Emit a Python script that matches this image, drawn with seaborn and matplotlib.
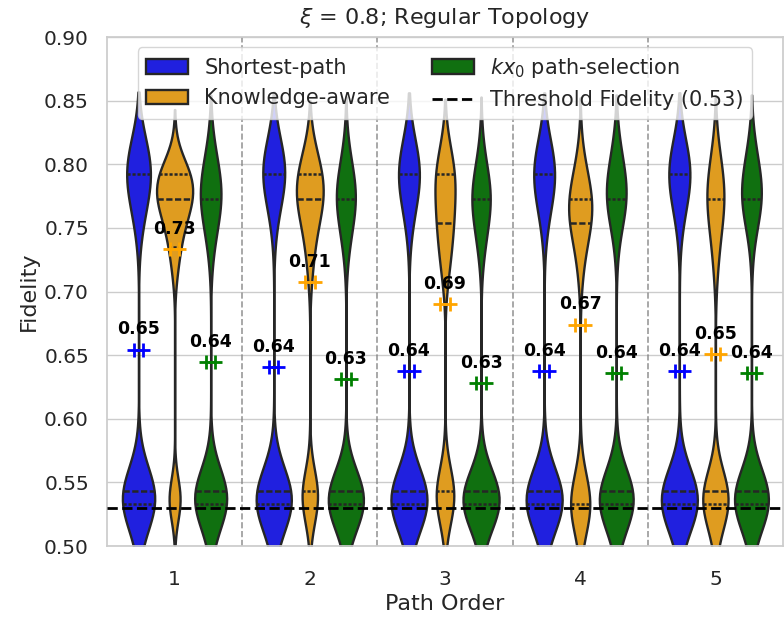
import numpy as np
import pandas as pd
import matplotlib
matplotlib.use("Agg")
import matplotlib.pyplot as plt
import seaborn as sns
from matplotlib.patches import Patch
from matplotlib.lines import Line2D
from matplotlib.ticker import FormatStrFormatter

# ---------------- data ----------------
PATH_ORDERS = [1, 2, 3, 4, 5]
METHODS = ["Shortest-path", "Knowledge-aware", "$kx_0$ path-selection"]

# discrete fidelity levels observed in the samples
LEVELS = [0.515, 0.524, 0.533, 0.543, 0.553, 0.563,
          0.716, 0.735, 0.754, 0.773, 0.792, 0.811]

# number of samples at each fidelity level, one list per path order
COUNTS_SHORTEST = [
    [15, 85, 155, 250, 20, 10, 0, 0, 50, 90, 200, 125],
    [30, 100, 190, 210, 50, 10, 0, 0, 30, 70, 200, 110],
    [30, 110, 190, 210, 50, 10, 0, 0, 40, 80, 180, 100],
    [30, 110, 190, 210, 50, 10, 0, 0, 40, 80, 180, 100],
    [30, 110, 190, 210, 50, 10, 0, 0, 35, 80, 185, 100],
]
COUNTS_KNOWLEDGE = [
    [0, 0, 100, 60, 0, 0, 40, 80, 140, 280, 270, 30],
    [0, 30, 80, 150, 20, 0, 40, 60, 110, 230, 200, 80],
    [0, 45, 95, 150, 35, 15, 65, 90, 130, 120, 180, 75],
    [40, 90, 130, 100, 20, 10, 45, 55, 190, 200, 95, 25],
    [30, 70, 155, 250, 5, 0, 30, 50, 90, 160, 110, 50],
]
COUNTS_KX0 = [
    [20, 90, 150, 250, 30, 10, 0, 40, 70, 180, 110, 50],
    [30, 110, 190, 210, 50, 10, 0, 40, 70, 170, 90, 30],
    [30, 110, 195, 215, 50, 10, 0, 50, 70, 165, 80, 25],
    [30, 100, 190, 210, 50, 10, 0, 15, 55, 185, 100, 55],
    [30, 100, 190, 210, 50, 10, 0, 15, 55, 185, 100, 55],
]
THRESHOLD = 0.53
VIOLIN_COLORS = ["blue", "orange", "green"]
MEAN_COLORS = ["blue", "orange", "green"]

# ---------------- build table ----------------
frames = []
for method, counts in zip(METHODS, [COUNTS_SHORTEST, COUNTS_KNOWLEDGE, COUNTS_KX0]):
    for order, c in zip(PATH_ORDERS, counts):
        vals = np.repeat(LEVELS, c)
        frames.append(pd.DataFrame({"Path Order": order, "Method": method, "Fidelity": vals}))
df = pd.concat(frames, ignore_index=True)
df["Path Order"] = pd.Categorical(df["Path Order"], categories=PATH_ORDERS)

# ---------------- plot ----------------
sns.set_theme(style="whitegrid", font_scale=1.1)
plt.rcParams["font.family"] = ["DejaVu Sans"]

fig = plt.figure(figsize=(7.84, 6.19), dpi=100)
ax = fig.add_axes([107 / 784, (619 - 546) / 619, (783 - 107) / 784, (546 - 37) / 619])

sns.violinplot(data=df, x="Path Order", y="Fidelity", hue="Method", hue_order=METHODS,
               palette=VIOLIN_COLORS, inner="quart", linewidth=1.7, linecolor="0.15",
               bw_adjust=0.72, inner_kws=dict(linewidth=1.8, color="0.15"),
               ax=ax, legend=False)

n_h = len(METHODS)
offsets = (np.arange(n_h) - (n_h - 1) / 2) * 0.8 / n_h
means = df.groupby(["Path Order", "Method"], observed=True)["Fidelity"].mean()
for j, m in enumerate(METHODS):
    for i, o in enumerate(PATH_ORDERS):
        mu = means[(o, m)]
        x = i + offsets[j]
        ax.plot([x - 0.035, x + 0.035], [mu, mu], ls="none", marker="+", ms=10, mew=2,
                color=MEAN_COLORS[j], zorder=5)
        ax.annotate(f"{mu:.2f}", (x, mu), xytext=(0, 11), textcoords="offset points",
                    ha="center", va="baseline", fontsize=12.5, fontweight="bold",
                    color="black", zorder=6)

for k in range(len(PATH_ORDERS) - 1):
    ax.axvline(k + 0.5, color="gray", ls="--", lw=1.2, alpha=0.8, zorder=1)

ax.axhline(THRESHOLD, color="black", ls="--", lw=2, zorder=4)

ax.set_ylim(0.5, 0.9)
ax.set_xlim(-0.5, len(PATH_ORDERS) - 0.5)
ax.set_yticks(np.arange(0.50, 0.901, 0.05))
ax.yaxis.set_major_formatter(FormatStrFormatter("%.2f"))
ax.tick_params(axis="both", labelsize=14.5)
ax.tick_params(axis="y", pad=7)
ax.tick_params(axis="x", pad=11)
ax.set_xlabel("Path Order", fontsize=16)
ax.set_ylabel("Fidelity", fontsize=16)
ax.set_title(r"$\xi$ = 0.8; Regular Topology", fontsize=16, pad=9)

handles = [Patch(facecolor=sns.desaturate(c, 0.75), edgecolor="0.15", linewidth=1.7, label=m)
           for c, m in zip(VIOLIN_COLORS, METHODS)]
handles.append(Line2D([], [], color="black", ls="--", lw=2,
                      label=f"Threshold Fidelity ({THRESHOLD})"))
ax.legend(handles=handles, loc="upper center", ncol=2, fontsize=15)

fig.savefig("out.png", dpi=100)
